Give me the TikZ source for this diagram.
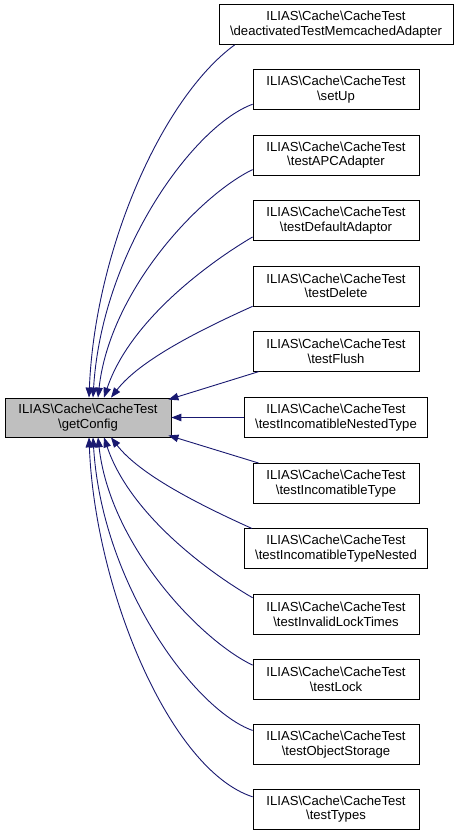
\documentclass[tikz,border=0pt]{standalone}
\usepackage{fontspec}
\setmainfont{Liberation Sans}
\usetikzlibrary{arrows.meta}
\definecolor{edgeblue}{HTML}{191970}
\definecolor{maingray}{HTML}{BFBFBF}
\newcommand\bsl{\textbackslash}
\begin{document}
\begin{tikzpicture}[x=1pt,y=-1pt,
  fnbox/.style={draw=black, line width=0.8pt, fill=white, minimum width=166pt,
    minimum height=40pt, inner xsep=11pt, inner ysep=2pt, align=center,
    font=\fontsize{13.1}{14.5}\selectfont},
  mainbox/.style={fnbox, fill=maingray, minimum height=39pt},
  edge/.style={draw=edgeblue, line width=0.9pt, -{Triangle[length=10pt,width=7.5pt]}}]
\useasboundingbox (0,0) rectangle (459,836);
\node[mainbox] (main) at (88,417.5) {ILIAS\bsl Cache\bsl CacheTest\\\bsl getConfig};
\node[fnbox] (n0) at (336,24.5) {ILIAS\bsl Cache\bsl CacheTest\\\bsl deactivatedTestMemcachedAdapter};
\node[fnbox] (n1) at (336,89.85) {ILIAS\bsl Cache\bsl CacheTest\\\bsl setUp};
\node[fnbox] (n2) at (336,155.2) {ILIAS\bsl Cache\bsl CacheTest\\\bsl testAPCAdapter};
\node[fnbox] (n3) at (336,220.55) {ILIAS\bsl Cache\bsl CacheTest\\\bsl testDefaultAdaptor};
\node[fnbox] (n4) at (336,285.9) {ILIAS\bsl Cache\bsl CacheTest\\\bsl testDelete};
\node[fnbox] (n5) at (336,351.25) {ILIAS\bsl Cache\bsl CacheTest\\\bsl testFlush};
\node[fnbox] (n6) at (336,417.5) {ILIAS\bsl Cache\bsl CacheTest\\\bsl testIncomatibleNestedType};
\node[fnbox] (n7) at (336,483.45) {ILIAS\bsl Cache\bsl CacheTest\\\bsl testIncomatibleType};
\node[fnbox] (n8) at (336,548.8) {ILIAS\bsl Cache\bsl CacheTest\\\bsl testIncomatibleTypeNested};
\node[fnbox] (n9) at (336,614.15) {ILIAS\bsl Cache\bsl CacheTest\\\bsl testInvalidLockTimes};
\node[fnbox] (n10) at (336,679.5) {ILIAS\bsl Cache\bsl CacheTest\\\bsl testLock};
\node[fnbox] (n11) at (336,744.85) {ILIAS\bsl Cache\bsl CacheTest\\\bsl testObjectStorage};
\node[fnbox] (n12) at (336,809.2) {ILIAS\bsl Cache\bsl CacheTest\\\bsl testTypes};
% upper edges
\draw[edge] ([xshift=16pt]n0.south west) .. controls (162,98) and (95,250) .. ([xshift=1pt]main.north);
\draw[edge] ([yshift=6pt]n1.south west) .. controls (195,125) and (102,250) .. ([xshift=5pt]main.north);
\draw[edge] ([yshift=6pt]n2.south west) .. controls (200,195) and (110,290) .. ([xshift=10pt]main.north);
\draw[edge] ([yshift=4pt]n3.south west) .. controls (210,262) and (130,320) .. ([xshift=16pt]main.north);
\draw[edge] (n4.south west) .. controls (200,330) and (140,360) .. ([xshift=23pt]main.north);
\draw[edge] ([xshift=6pt]n5.south west) -- ([xshift=-3pt,yshift=-2pt]main.north east);
\draw[edge] (n6.west) -- (main.east);
% lower edges
\draw[edge] ([xshift=6pt]n7.north west) -- ([xshift=-3pt,yshift=2pt]main.south east);
\draw[edge] ([xshift=8pt]n8.north west) .. controls (200,505) and (140,475) .. ([xshift=23pt]main.south);
\draw[edge] ([yshift=-4pt]n9.north west) .. controls (210,573) and (130,515) .. ([xshift=16pt]main.south);
\draw[edge] ([yshift=-6pt]n10.north west) .. controls (200,640) and (110,545) .. ([xshift=10pt]main.south);
\draw[edge] ([yshift=-6pt]n11.north west) .. controls (195,710) and (102,585) .. ([xshift=5pt]main.south);
\draw[edge] ([yshift=-8pt]n12.north west) .. controls (170,770) and (95,590) .. ([xshift=1pt]main.south);
\end{tikzpicture}
\end{document}
